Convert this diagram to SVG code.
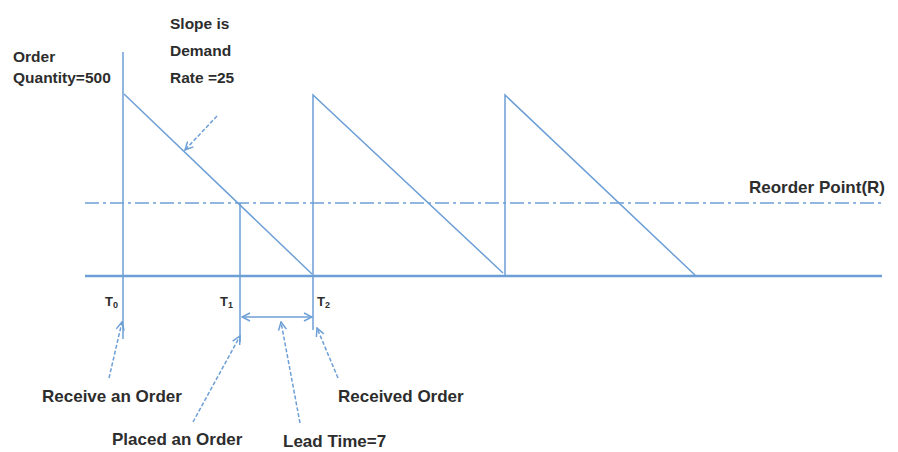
<svg xmlns="http://www.w3.org/2000/svg" width="898" height="452" viewBox="0 0 898 452">
<style>
.ln{stroke:#6d9fd6;stroke-width:1.5;fill:none}
.ax{stroke:#6d9fd6;stroke-width:2.5;fill:none}
.rp{stroke:#6d9fd6;stroke-width:1.3;fill:none;stroke-dasharray:14 4 3 4}
.da{stroke:#6d9fd6;stroke-width:1.5;fill:none;stroke-dasharray:4 2;marker-end:url(#ah)}
.tx{font-family:"Liberation Sans",Arial,sans-serif;font-weight:bold;fill:#2d2d2d}
.big{font-size:17px}
.mid{font-size:15.5px}
.sm{font-size:13px}
</style>
<defs>
<marker id="ah" viewBox="0 0 10 10" refX="9" refY="5" markerWidth="10" markerHeight="10" markerUnits="userSpaceOnUse" orient="auto">
<path d="M1,1 L9,5 L1,9" fill="none" stroke="#6d9fd6" stroke-width="1.5"/>
</marker>
<marker id="ah2" viewBox="0 0 10 10" refX="9" refY="5" markerWidth="10" markerHeight="10" markerUnits="userSpaceOnUse" orient="auto-start-reverse">
<path d="M1,1 L9,5 L1,9" fill="none" stroke="#6d9fd6" stroke-width="1.5"/>
</marker>
</defs>
<rect width="898" height="452" fill="#ffffff"/>
<g id="chart">
<line class="ax" x1="85" y1="276" x2="882" y2="276"/>
<line class="rp" x1="85" y1="203" x2="883" y2="203"/>
<line class="ln" x1="123" y1="52" x2="123" y2="339"/>
<polyline class="ln" points="124,94 312,274"/>
<polyline class="ln" points="313,330 313,95 503,273"/>
<polyline class="ln" points="505,276 505,95 696,276"/>
<line class="ln" x1="240" y1="203" x2="240" y2="342"/>
</g>
<g id="connectors">
<line class="da" x1="217" y1="116" x2="185" y2="150"/>
<line class="da" x1="109" y1="378" x2="122" y2="322"/>
<line class="da" x1="193" y1="422" x2="240" y2="336"/>
<line class="da" x1="300" y1="423" x2="281" y2="322"/>
<line class="da" x1="338" y1="378" x2="317" y2="328"/>
<line class="ln" x1="242" y1="317" x2="312" y2="317" marker-start="url(#ah2)" marker-end="url(#ah2)"/>
</g>
<g id="labels">
<text class="tx mid" x="13" y="62">Order</text>
<text class="tx mid" x="13" y="83">Quantity=500</text>
<text class="tx mid" x="170" y="29">Slope is</text>
<text class="tx mid" x="170" y="56">Demand</text>
<text class="tx mid" x="170" y="83">Rate =25</text>
<text class="tx big" x="749" y="193">Reorder Point(R)</text>
<text class="tx sm" x="105" y="306">T<tspan font-size="9" dy="2">0</tspan></text>
<text class="tx sm" x="220" y="306">T<tspan font-size="9" dy="2">1</tspan></text>
<text class="tx sm" x="317" y="306">T<tspan font-size="9" dy="2">2</tspan></text>
<text class="tx big" x="42" y="402">Receive an Order</text>
<text class="tx big" x="338" y="402">Received Order</text>
<text class="tx big" x="112" y="445">Placed an Order</text>
<text class="tx big" x="283" y="447">Lead Time=7</text>
</g>
</svg>
